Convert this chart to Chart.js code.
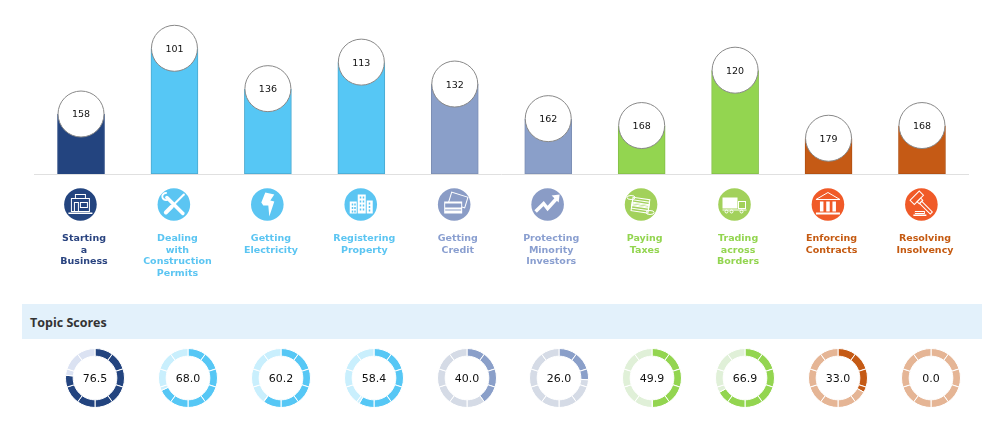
<!DOCTYPE html>
<html>
<head>
    <title>Topic Rankings and Scores</title>
    <script src="https://cdn.jsdelivr.net/npm/chart.js"></script>
    <style>
        body { margin: 0; background: #fff; width: 1006px; height: 424px; overflow: hidden; position: relative; }
        #rankChart { position: absolute; left: 0; top: 0; }
        #banner { position: absolute; left: 22px; top: 304px; width: 952px; height: 35px; padding-left: 8px; line-height: 37px;
                  background: #e3f1fb; color: #333; font: bold 12.5px/37px "Open Sans", sans-serif; }
        #gauges { position: absolute; left: 60px; top: 343px; display: flex; gap: 22.9px; }
    </style>
</head>
<body>
    <canvas id="rankChart" width="1006" height="300"></canvas>
    <div id="banner">Topic Scores</div>
    <div id="gauges"></div>
    <script>
        const topics = [
            ['Starting', 'a', 'Business'],
            ['Dealing', 'with', 'Construction', 'Permits'],
            ['Getting', 'Electricity'],
            ['Registering', 'Property'],
            ['Getting', 'Credit'],
            ['Protecting', 'Minority', 'Investors'],
            ['Paying', 'Taxes'],
            ['Trading', 'across', 'Borders'],
            ['Enforcing', 'Contracts'],
            ['Resolving', 'Insolvency']
        ];
        const ranks = [158, 101, 136, 113, 132, 162, 168, 120, 179, 168];
        const scores = [76.5, 68.0, 60.2, 58.4, 40.0, 26.0, 49.9, 66.9, 33.0, 0.0];

        const barColors = ['#23447f', '#56c7f5', '#56c7f5', '#56c7f5', '#8a9fc9', '#8a9fc9', '#93d550', '#93d550', '#c55a15', '#c55a15'];
        const barEdges = ['#23447f', '#4aa9d0', '#4aa9d0', '#4aa9d0', '#7c8fb5', '#7c8fb5', '#84bf48', '#84bf48', '#b05012', '#b05012'];
        const textColors = ['#2a4480', '#5bc5f2', '#5bc5f2', '#5bc5f2', '#8a9fd0', '#8a9fd0', '#93d550', '#93d550', '#c55a11', '#c55a11'];
        const iconColors = ['#23447f', '#5bc5f2', '#5bc5f2', '#5bc5f2', '#8a9cc6', '#8a9cc6', '#a2d15b', '#a2d15b', '#f05a28', '#f05a28'];
        const ringLight = ['#dbe2f2', '#c9effd', '#c9effd', '#c9effd', '#d5dbe6', '#d5dbe6', '#e0f0d8', '#e0f0d8', '#e5b595', '#e5b595'];

        // small white glyphs, drawn around the centre of each icon circle
        function poly(ctx, pts, fill) {
            ctx.beginPath();
            pts.forEach((p, i) => i ? ctx.lineTo(p[0], p[1]) : ctx.moveTo(p[0], p[1]));
            ctx.closePath();
            fill ? ctx.fill() : ctx.stroke();
        }
        const glyphs = [
            ctx => { // shop
                ctx.strokeRect(-9, -6, 18, 13);
                ctx.strokeRect(-5, -10, 10, 4);
                ctx.strokeRect(-6, -2, 4, 9);
                ctx.strokeRect(0, -2, 7, 5);
                ctx.fillRect(-12, 8, 24, 1.5);
            },
            ctx => { // spanner and screwdriver
                ctx.save();
                ctx.lineCap = 'round';
                ctx.lineWidth = 3.5;
                ctx.beginPath(); ctx.moveTo(-7, -7); ctx.lineTo(9, 9); ctx.stroke();
                ctx.lineWidth = 2;
                ctx.beginPath(); ctx.moveTo(10, -10); ctx.lineTo(1, -1); ctx.stroke();
                ctx.lineWidth = 4;
                ctx.beginPath(); ctx.moveTo(-2, 2); ctx.lineTo(-8, 8); ctx.stroke();
                ctx.restore();
                ctx.beginPath(); ctx.arc(-8, -8, 3.5, 0.6, 5, false); ctx.lineWidth = 2; ctx.stroke();
            },
            ctx => { // lightning bolt
                poly(ctx, [[-2, -12], [7, -10], [3, -4], [7, -3], [2, 12], [1, 1], [-4, 1], [-6, -2]], true);
            },
            ctx => { // office blocks
                ctx.fillRect(-3, -10, 8, 19);
                ctx.fillRect(-11, -3, 7, 12);
                ctx.fillRect(6, -4, 6, 13);
                ctx.fillStyle = iconColors[3];
                for (let r = 0; r < 4; r++) {
                    ctx.fillRect(-1, -8 + r * 4, 1.5, 2);
                    ctx.fillRect(2, -8 + r * 4, 1.5, 2);
                }
                for (let r = 0; r < 3; r++) {
                    ctx.fillRect(-9, -1 + r * 3.5, 1.5, 2);
                    ctx.fillRect(-6.5, -1 + r * 3.5, 1.5, 2);
                    ctx.fillRect(8, -2 + r * 3.5, 1.5, 2);
                }
            },
            ctx => { // bank cards
                ctx.save();
                ctx.rotate(0.3);
                ctx.strokeRect(-6, -11, 17, 11);
                ctx.restore();
                ctx.fillStyle = '#fff';
                ctx.fillRect(-10, -3, 18, 12);
                ctx.fillStyle = iconColors[4];
                ctx.fillRect(-9, -1, 16, 4);
                ctx.fillRect(-9, 5, 16, 1);
            },
            ctx => { // rising arrow
                ctx.save();
                ctx.lineWidth = 3.5;
                ctx.lineJoin = 'miter';
                ctx.beginPath();
                ctx.moveTo(-12, 7); ctx.lineTo(-4, -1); ctx.lineTo(0, 4); ctx.lineTo(9, -6);
                ctx.stroke();
                ctx.restore();
                poly(ctx, [[4, -9], [12, -10], [11, -2]], true);
            },
            ctx => { // stack of banknotes and coins
                ctx.save();
                ctx.rotate(0.15);
                for (let s = 0; s < 4; s++) {
                    ctx.strokeRect(-9, -6 + s * 2.5, 17, 6);
                }
                ctx.restore();
                ctx.beginPath(); ctx.ellipse(-10, -7, 4, 2, 0, 0, 6.3); ctx.stroke();
                ctx.beginPath(); ctx.ellipse(9, 8, 4, 2, 0, 0, 6.3); ctx.stroke();
            },
            ctx => { // lorry
                ctx.fillRect(-12, -7, 15, 11);
                ctx.strokeRect(4, -3, 7, 7);
                ctx.fillRect(-12, 5, 24, 1);
                [-8, -3, 7].forEach(x => { ctx.beginPath(); ctx.arc(x, 7, 1.5, 0, 6.3); ctx.stroke(); });
            },
            ctx => { // courthouse
                poly(ctx, [[0, -12], [12, -5], [-12, -5]], false);
                ctx.fillRect(-8, -3, 3.5, 10);
                ctx.fillRect(-1.7, -3, 3.5, 10);
                ctx.fillRect(4.5, -3, 3.5, 10);
                ctx.fillRect(-12, 8, 24, 2);
            },
            ctx => { // gavel
                ctx.save();
                ctx.rotate(Math.PI / 4);
                ctx.strokeRect(-11, -8, 6, 13);
                ctx.strokeRect(-5, -4, 3, 5);
                ctx.strokeRect(-2, -2.5, 15, 3);
                ctx.restore();
                ctx.strokeRect(-6, 7, 9, 2);
                ctx.fillRect(-8, 10, 13, 1.5);
            }
        ];

        const iconRow = {
            id: 'iconRow',
            afterDraw(chart) {
                const ctx = chart.ctx;
                const xAxis = chart.scales.x;
                topics.forEach((t, i) => {
                    const cx = xAxis.getPixelForTick(i) - 0.6;
                    ctx.save();
                    ctx.translate(cx, 204.5);
                    ctx.fillStyle = iconColors[i];
                    ctx.beginPath();
                    ctx.arc(0, 0, 16.3, 0, Math.PI * 2);
                    ctx.fill();
                    ctx.fillStyle = '#fff';
                    ctx.strokeStyle = '#fff';
                    ctx.lineWidth = 1;
                    glyphs[i](ctx);
                    ctx.restore();
                });
            }
        };

        const rankLabels = {
            id: 'rankLabels',
            afterDatasetsDraw(chart) {
                const ctx = chart.ctx;
                ctx.save();
                ctx.font = '9.5px "DejaVu Sans"';
                ctx.fillStyle = '#111';
                ctx.textAlign = 'center';
                ctx.textBaseline = 'middle';
                chart.getDatasetMeta(1).data.forEach((pt, i) => ctx.fillText(ranks[i], pt.x, pt.y + 1));
                ctx.restore();
            }
        };

        new Chart(document.getElementById('rankChart').getContext('2d'), {
            data: {
                labels: topics,
                datasets: [
                    {
                        type: 'bar',
                        data: ranks,
                        base: 210,
                        barThickness: 47,
                        backgroundColor: barColors,
                        borderColor: barEdges,
                        borderWidth: { left: 1, right: 1, top: 0, bottom: 1 },
                        borderSkipped: false,
                        order: 2
                    },
                    {
                        type: 'line',
                        data: ranks,
                        showLine: false,
                        pointRadius: 23,
                        pointBackgroundColor: '#fff',
                        pointBorderColor: '#888',
                        pointBorderWidth: 1,
                        clip: false,
                        order: 1
                    }
                ]
            },
            options: {
                responsive: false,
                animation: false,
                layout: { autoPadding: false, padding: { left: 34.3, right: 37.3, top: 1 } },
                plugins: { legend: { display: false }, tooltip: { enabled: false } },
                scales: {
                    x: {
                        grid: { display: false, drawTicks: false },
                        border: { display: true, color: '#e0e0e0' },
                        afterFit(scale) {
                            scale.height = 126;
                            scale.paddingLeft = 0;
                            scale.paddingRight = 0;
                        },
                        ticks: {
                            autoRotate: false,
                            maxRotation: 0,
                            autoSkip: false,
                            padding: 59,
                            labelOffset: 3,
                            color: ctx => textColors[ctx.index],
                            font: { family: '"DejaVu Sans"', size: 9.5, weight: 'bold', lineHeight: 1.21 }
                        }
                    },
                    y: { display: false, reverse: true, min: 60, max: 210 }
                }
            },
            plugins: [iconRow, rankLabels]
        });

        // one ring per topic, cut into ten blocks of ten points, dark up to the score
        function ringPieces(score, dark, light) {
            const values = [];
            const colors = [];
            for (let b = 0; b < 10; b++) {
                const lo = b * 10;
                const hi = lo + 10;
                if (score >= hi) {
                    values.push(10); colors.push(dark);
                } else if (score <= lo) {
                    values.push(10); colors.push(light);
                } else {
                    values.push(score - lo, hi - score);
                    colors.push(dark, light);
                }
            }
            return { values, colors };
        }

        const ringText = {
            id: 'ringText',
            afterDraw(chart) {
                const ctx = chart.ctx;
                const pt = chart.getDatasetMeta(0).data[0];
                ctx.save();
                ctx.font = '11px "DejaVu Sans"';
                ctx.fillStyle = '#111';
                ctx.textAlign = 'center';
                ctx.textBaseline = 'middle';
                ctx.fillText(chart.options.plugins.ringText.text, pt.x, pt.y + 1);
                ctx.restore();
            }
        };

        scores.forEach((score, i) => {
            const canvas = document.createElement('canvas');
            canvas.width = 70;
            canvas.height = 70;
            document.getElementById('gauges').appendChild(canvas);
            const ring = ringPieces(score, barColors[i], ringLight[i]);
            new Chart(canvas.getContext('2d'), {
                type: 'doughnut',
                data: {
                    datasets: [{
                        data: ring.values,
                        backgroundColor: ring.colors,
                        borderColor: '#fff',
                        borderWidth: 1
                    }]
                },
                options: {
                    responsive: false,
                    animation: false,
                    radius: 29.5,
                    cutout: '74%',
                    plugins: {
                        legend: { display: false },
                        tooltip: { enabled: false },
                        ringText: { text: score.toFixed(1) }
                    }
                },
                plugins: [ringText]
            });
        });
    </script>
</body>
</html>
